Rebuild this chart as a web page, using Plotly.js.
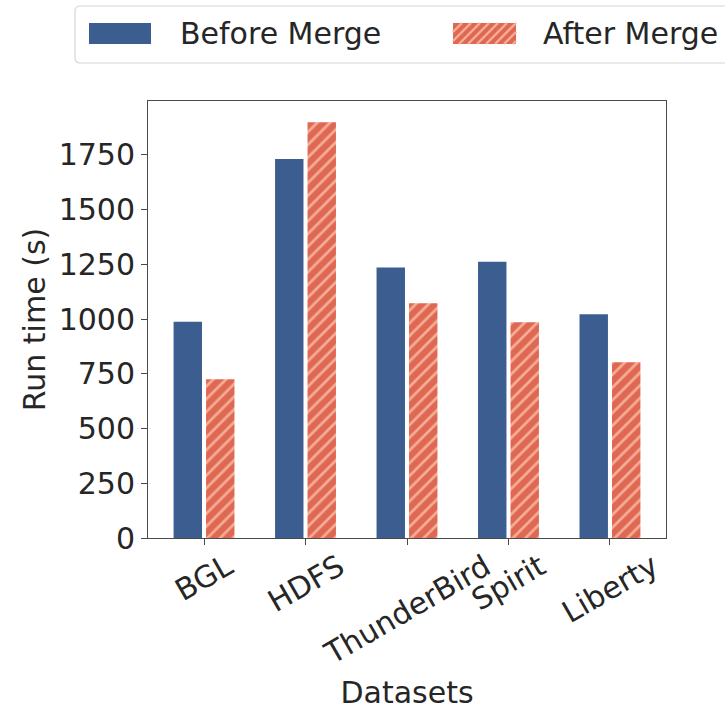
<!DOCTYPE html>
<html>
<head>
<meta charset="utf-8">
<script src="https://cdn.plot.ly/plotly-3.0.1.min.js"></script>
<style>
  html, body { margin: 0; padding: 0; background: #ffffff; }
  #chart { width: 725px; height: 713px; }
</style>
</head>
<body>
<div id="chart"></div>
<script>
// Run time per dataset, before and after the merge step (seconds)
const categories = ['BGL', 'HDFS', 'ThunderBird', 'Spirit', 'Liberty'];
const beforeMerge = [988, 1731, 1235, 1262, 1022];
const afterMerge = [725, 1899, 1072, 985, 803];
const yTickValues = [0, 250, 500, 750, 1000, 1250, 1500, 1750];
const seriesNames = ['Before Merge', 'After Merge'];

const W = 725, H = 713;
const M = { l: 148, r: 59, t: 101, b: 175 };
const plotW = W - M.l - M.r;
const plotH = H - M.t - M.b;

const FONT = 'DejaVu Sans, Liberation Sans, sans-serif';
const TEXT = '#262626';
const AXIS = '#4a4a4a';
const BLUE = '#3b5d8f';
const RED = '#df6853';
const HATCH = '#f6ad98';

// pixel -> paper helpers for the legend block, which sits above the plot area
const px = x => (x - M.l) / plotW;
const py = y => (M.t + plotH - y) / plotH;

const xIdx = categories.map((_, i) => i);

const traces = [
  {
    type: 'bar',
    name: seriesNames[0],
    x: xIdx,
    y: beforeMerge,
    offset: -0.3,
    width: 0.28,
    marker: { color: BLUE, line: { width: 0 } },
    showlegend: false,
    hoverinfo: 'y'
  },
  {
    type: 'bar',
    name: seriesNames[1],
    x: xIdx,
    y: afterMerge,
    offset: 0.02,
    width: 0.28,
    marker: {
      color: RED,
      line: { width: 0 },
      pattern: { shape: '/', size: 9, solidity: 0.3, fillmode: 'replace', bgcolor: RED, fgcolor: HATCH }
    },
    showlegend: false,
    hoverinfo: 'y'
  }
];

// rotated category labels, centred under each tick
const annotations = categories.map((c, i) => ({
  xref: 'x', yref: 'paper', x: i, y: 0,
  xanchor: 'center', yanchor: 'top', yshift: -7,
  textangle: -30, showarrow: false,
  text: c, font: { family: FONT, size: 30, color: TEXT }
}));

// legend: framed box with two swatches and labels
const shapes = [];
const roundRect = (x0, y0, x1, y1, r) =>
  `M${px(x0 + r)},${py(y0)} L${px(x1 - r)},${py(y0)} Q${px(x1)},${py(y0)} ${px(x1)},${py(y0 + r)} ` +
  `L${px(x1)},${py(y1 - r)} Q${px(x1)},${py(y1)} ${px(x1 - r)},${py(y1)} L${px(x0 + r)},${py(y1)} ` +
  `Q${px(x0)},${py(y1)} ${px(x0)},${py(y1 - r)} L${px(x0)},${py(y0 + r)} Q${px(x0)},${py(y0)} ${px(x0 + r)},${py(y0)} Z`;

shapes.push({
  type: 'path', xref: 'paper', yref: 'paper', layer: 'above',
  path: roundRect(75, 6, 740, 63, 5),
  fillcolor: 'rgba(255,255,255,0.85)', line: { color: '#d6d6d6', width: 1.2 }
});

const sw = { y0: 23, y1: 44 };
shapes.push({
  type: 'rect', xref: 'paper', yref: 'paper', layer: 'above',
  x0: px(89), x1: px(151), y0: py(sw.y1), y1: py(sw.y0),
  fillcolor: BLUE, line: { width: 0 }
});
const rx0 = 453, rx1 = 516;
shapes.push({
  type: 'rect', xref: 'paper', yref: 'paper', layer: 'above',
  x0: px(rx0), x1: px(rx1), y0: py(sw.y1), y1: py(sw.y0),
  fillcolor: RED, line: { width: 0 }
});
// hatch strokes inside the second swatch
const hh = sw.y1 - sw.y0;
for (let c = rx0 - hh; c < rx1; c += 9) {
  // stroke from (c, bottom) rising to (c + hh, top), clipped to the swatch
  let xa = c, ya = sw.y1, xb = c + hh, yb = sw.y0;
  if (xa < rx0) { ya = sw.y1 - (rx0 - xa); xa = rx0; }
  if (xb > rx1) { yb = sw.y0 + (xb - rx1); xb = rx1; }
  if (xb <= xa) continue;
  shapes.push({
    type: 'line', xref: 'paper', yref: 'paper', layer: 'above',
    x0: px(xa), y0: py(ya), x1: px(xb), y1: py(yb),
    line: { color: HATCH, width: 2.4 }
  });
}

annotations.push(
  {
    xref: 'paper', yref: 'paper', x: px(178), y: py(33),
    xanchor: 'left', yanchor: 'middle', showarrow: false,
    text: seriesNames[0], font: { family: FONT, size: 30, color: TEXT }
  },
  {
    xref: 'paper', yref: 'paper', x: px(541), y: py(33),
    xanchor: 'left', yanchor: 'middle', showarrow: false,
    text: seriesNames[1], font: { family: FONT, size: 30, color: TEXT }
  }
);

const layout = {
  width: W,
  height: H,
  margin: M,
  paper_bgcolor: '#ffffff',
  plot_bgcolor: '#ffffff',
  barmode: 'overlay',
  showlegend: false,
  font: { family: FONT, size: 30, color: TEXT },
  xaxis: {
    range: [-0.552, 4.552],
    tickvals: xIdx,
    ticktext: categories,
    showticklabels: false,
    ticks: 'outside', ticklen: 6, tickwidth: 1, tickcolor: AXIS,
    showline: true, linecolor: AXIS, linewidth: 1, mirror: true,
    showgrid: false, zeroline: false,
    title: { text: 'Datasets', font: { family: FONT, size: 30, color: TEXT }, standoff: 137 }
  },
  yaxis: {
    range: [0, 1996],
    tickvals: yTickValues,
    ticks: 'outside', ticklen: 6, tickwidth: 1, tickcolor: AXIS,
    tickfont: { family: FONT, size: 30, color: TEXT },
    showline: true, linecolor: AXIS, linewidth: 1, mirror: true,
    showgrid: false, zeroline: false,
    title: { text: 'Run time (s)', font: { family: FONT, size: 30, color: TEXT }, standoff: 4 }
  },
  shapes: shapes,
  annotations: annotations
};

Plotly.newPlot('chart', traces, layout, { displayModeBar: false, staticPlot: true });
</script>
</body>
</html>
